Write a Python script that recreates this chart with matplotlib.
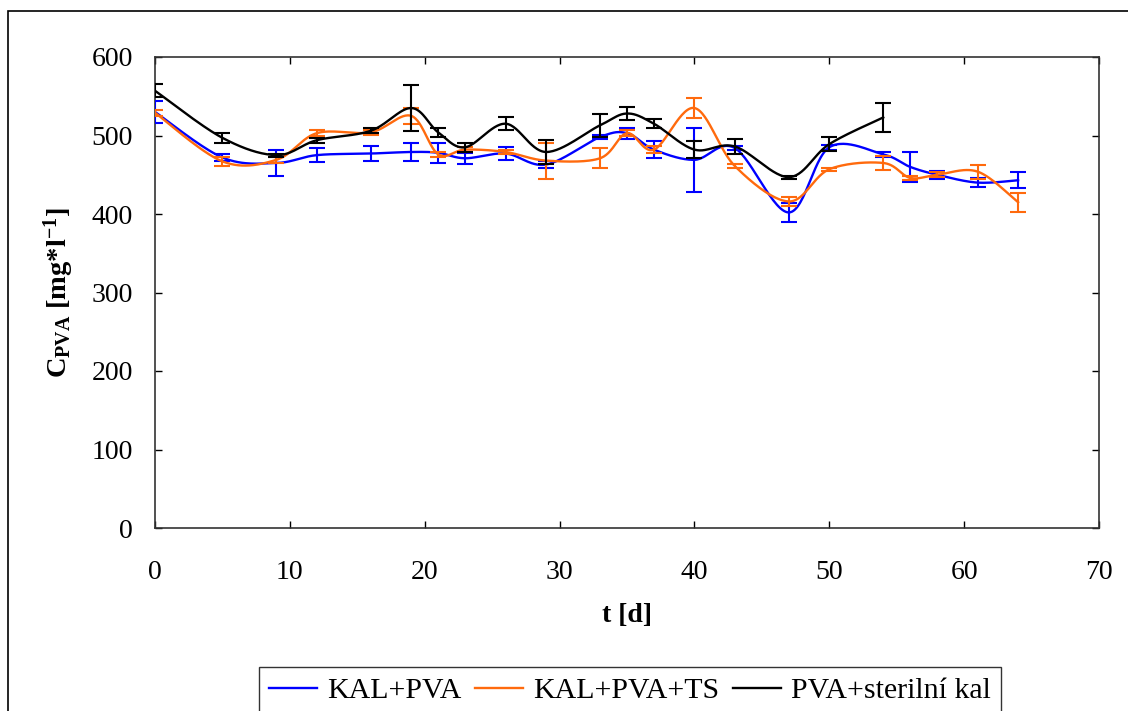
import numpy as np
import matplotlib
matplotlib.use("Agg")
import matplotlib.pyplot as plt
from matplotlib.patches import Rectangle

plt.rcParams['font.family'] = ['Liberation Serif', 'DejaVu Serif']
plt.rcParams['mathtext.fontset'] = 'custom'
plt.rcParams['mathtext.rm'] = 'Liberation Serif'
plt.rcParams['mathtext.bf'] = 'Liberation Serif:bold'
plt.rcParams['mathtext.it'] = 'Liberation Serif:italic'

# data
t_all = [0, 5, 9, 12, 16, 19, 21, 23, 26, 29, 33, 35, 37, 40, 43, 47, 50, 54, 56, 58, 61, 64]

kal_pva = [530, 472, 465, 475, 477, 479, 478, 471, 477, 463, 498, 503, 482, 469, 484, 402, 485, 476, 460, 450, 440, 443]
kal_pva_err = [14, 4, 17, 9, 10, 12, 13, 7, 8, 4, 3, 7, 11, 41, 3, 12, 3, 3, 19, 5, 6, 10]

kal_pva_ts = [529, 467, 469, 503, 504, 525, 476, 482, 479, 468, 471, 503, 482, 535, 461, 416, 457, 465, 446, 450, 454, 415]
kal_pva_ts_err = [4, 6, 4, 4, 3, 10, 3, 3, 3, 23, 13, 4, 4, 13, 3, 6, 2, 9, 3, 3, 9, 12]

t_ster = [0, 5, 9, 12, 16, 19, 21, 23, 26, 29, 33, 35, 37, 40, 43, 47, 50, 54]
pva_ster = [557, 497, 475, 494, 506, 535, 504, 485, 515, 479, 513, 528, 515, 482, 486, 447, 489, 523]
pva_ster_err = [8, 6, 2, 3, 3, 29, 6, 6, 8, 15, 15, 8, 6, 11, 9, 2, 9, 19]

series = [
    ("KAL+PVA", t_all, kal_pva, kal_pva_err, "#0000FF"),
    ("KAL+PVA+TS", t_all, kal_pva_ts, kal_pva_ts_err, "#FF6A0D"),
    ("PVA+sterilní kal", t_ster, pva_ster, pva_ster_err, "#000000"),
]


def smooth(x, y, n=30):
    # uniform Catmull-Rom, close to the spreadsheet "smoothed line"
    x = np.asarray(x, float)
    y = np.asarray(y, float)
    px = np.concatenate([[x[0]], x, [x[-1]]])
    py = np.concatenate([[y[0]], y, [y[-1]]])
    s = np.linspace(0, 1, n, endpoint=False)
    xs, ys = [], []
    for i in range(1, len(px) - 2):
        for p, out in ((px, xs), (py, ys)):
            p0, p1, p2, p3 = p[i - 1], p[i], p[i + 1], p[i + 2]
            out.append(0.5 * ((2 * p1) + (-p0 + p2) * s
                              + (2 * p0 - 5 * p1 + 4 * p2 - p3) * s ** 2
                              + (-p0 + 3 * p1 - 3 * p2 + p3) * s ** 3))
    xs.append([x[-1]])
    ys.append([y[-1]])
    return np.concatenate(xs), np.concatenate(ys)


fig = plt.figure(figsize=(11.28, 7.11), dpi=100)
ax = fig.add_axes([155 / 1128, 1 - 528 / 711, (1099 - 155) / 1128, (528 - 57) / 711])

for name, t, v, e, c in series:
    sx, sy = smooth(t, v)
    ax.plot(sx, sy, color=c, lw=1.7, label=name, zorder=3)
    ax.errorbar(t, v, yerr=e, fmt='none', ecolor=c, elinewidth=1.5,
                capsize=6, capthick=1.5, zorder=3)

ax.set_xlim(0, 70)
ax.set_ylim(0, 600)
ax.set_xticks(range(0, 71, 10))
ax.set_yticks(range(0, 601, 100))
ax.tick_params(direction='in', length=5, width=1, labelsize=20,
               top=True, right=True, colors='black')
ax.tick_params(axis='x', pad=23)
ax.tick_params(axis='y', pad=16)
for sp in ax.spines.values():
    sp.set_linewidth(1.2)
    sp.set_color('#333333')

ax.set_xlabel('t [d]', fontsize=20, fontweight='bold', labelpad=13)
ax.set_ylabel(r'$\mathbf{C_{PVA}\ [mg{*}l^{-1}]}$', fontsize=20.5, labelpad=11)

fig.legend(loc='upper center', bbox_to_anchor=(630 / 1128, 1 - 667 / 711),
           ncol=3, fontsize=21.5, frameon=True, fancybox=False, edgecolor='black',
           handlelength=1.6, handletextpad=0.35, columnspacing=0.45,
           borderpad=0.35, borderaxespad=0)

# outer frame of the chart
fig.add_artist(Rectangle((8 / 1128, -0.5), 2, 1.5 - 11 / 711, transform=fig.transFigure,
                         fill=False, edgecolor='black', lw=1.2))

fig.savefig('out.png', dpi=100)
